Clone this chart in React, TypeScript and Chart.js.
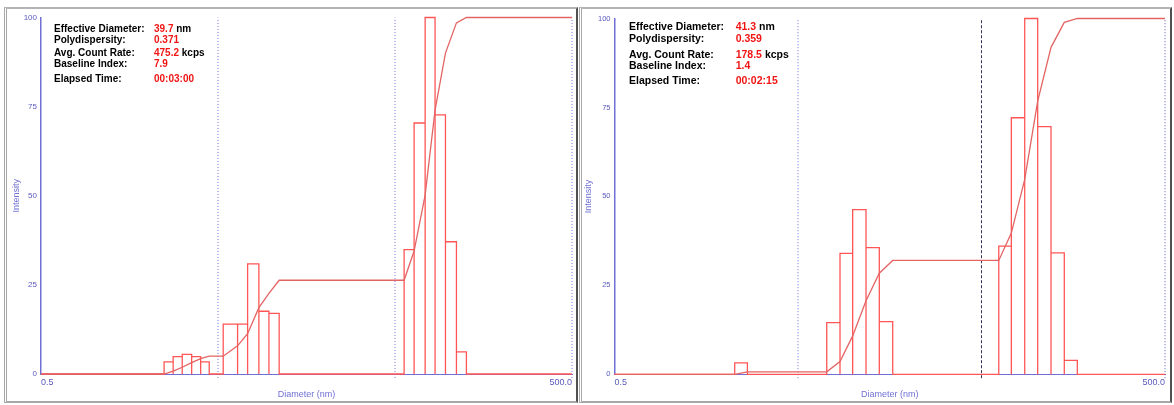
import React, { useEffect, useRef } from 'react';
import { Chart, registerables } from 'chart.js';
Chart.register(...registerables);

// ---------- shared axis data ----------
const xTickValues = [0.5, 500];
const xTickLabels = ['0.5', '500.0'];
const yTickValues = [0, 25, 50, 75, 100];
const statLabels = ['Effective Diameter:', 'Polydispersity:', 'Avg. Count Rate:', 'Baseline Index:', 'Elapsed Time:'];
const statUnits = ['nm', '', 'kcps', '', ''];

// ---------- left measurement ----------
const leftBinLo = [2.48, 2.79, 3.14, 3.55, 3.99, 5.35, 6.45, 7.35, 8.51, 9.70, 56.3, 64.1, 74.0, 84.2, 96.4, 111.2];
const leftBinHi = [2.79, 3.14, 3.55, 3.99, 4.46, 6.45, 7.35, 8.51, 9.70, 11.08, 64.1, 74.0, 84.2, 96.4, 111.2, 126.6];
const leftIntensity = [3.4, 4.9, 5.5, 4.9, 3.4, 14.0, 14.0, 30.9, 17.6, 17.0, 34.9, 70.4, 100, 72.7, 37.1, 6.2];
const leftCumDiameter = [0.5, 2.48, 2.79, 3.14, 3.55, 3.99, 4.46, 5.35, 6.45, 7.35, 8.51, 9.70, 11.08, 56.3, 64.1, 74.0, 84.2, 96.4, 111.2, 126.6, 500];
const leftCumulative = [0, 0, 0.8, 1.9, 3.2, 4.3, 5.0, 5.0, 7.9, 11.3, 18.6, 22.6, 26.3, 26.3, 34.5, 50.2, 74.0, 90.0, 98.5, 100, 100];
const leftStatValues = ['39.7', '0.371', '475.2', '7.9', '00:03:00'];

// ---------- right measurement ----------
const rightBinLo = [2.26, 7.17, 8.47, 9.93, 11.74, 13.87, 62.1, 72.7, 86.0, 101.2, 119.6, 141.3];
const rightBinHi = [2.65, 8.47, 9.93, 11.74, 13.87, 16.41, 72.7, 86.0, 101.2, 119.6, 141.3, 166.4];
const rightIntensity = [3.2, 14.5, 34.0, 46.3, 35.6, 14.8, 36.0, 72.1, 100, 69.6, 34.1, 3.9];
const rightCumDiameter = [0.5, 2.26, 2.65, 7.17, 8.47, 9.93, 11.74, 13.87, 16.41, 62.1, 72.7, 86.0, 101.2, 119.6, 141.3, 166.4, 500];
const rightCumulative = [0, 0, 0.7, 0.7, 3.6, 10.8, 20.7, 28.4, 32.0, 32.0, 39.7, 54.8, 76.8, 91.9, 98.9, 100, 100];
const rightStatValues = ['41.3', '0.359', '178.5', '1.4', '00:02:15'];

const FONT = "'Liberation Sans', Arial, Helvetica, sans-serif";
const AXIS_BLUE = 'rgb(112,112,212)';
const LABEL_BLUE = 'rgb(88,88,188)';

type Marker = { d: number; color: string; dash: number[] };

type PanelProps = {
  canvasLeft: number; canvasTop: number; canvasWidth: number; canvasHeight: number;
  padTop: number; padRight: number; yAxisWidth: number; xAxisHeight: number; yTitlePad: number;
  binLo: number[]; binHi: number[]; intensity: number[];
  cumD: number[]; cum: number[];
  markers: Marker[];
  yTickSize: number;
};

function ChartPanel(p: PanelProps) {
  const ref = useRef<HTMLCanvasElement | null>(null);
  useEffect(() => {
    if (!ref.current) return;
    const hist: { x: number; y: number }[] = [{ x: xTickValues[0], y: 0 }];
    for (let i = 0; i < p.intensity.length; i++) {
      hist.push({ x: p.binLo[i], y: 0 });
      hist.push({ x: p.binLo[i], y: p.intensity[i] });
      hist.push({ x: p.binHi[i], y: p.intensity[i] });
      hist.push({ x: p.binHi[i], y: 0 });
    }
    hist.push({ x: xTickValues[1], y: 0 });
    const cumPts = p.cumD.map((d, i) => ({ x: d, y: p.cum[i] }));
    const markerSets = p.markers.map((m) => ({
      data: [{ x: m.d, y: -1.1 }, { x: m.d, y: 100 }],
      borderColor: m.color,
      borderWidth: 1,
      borderDash: m.dash,
      pointRadius: 0,
      clip: false as any,
      order: 3,
    }));
    const chart = new Chart(ref.current, {
      type: 'line',
      data: {
        datasets: [
          { data: cumPts, borderColor: 'rgb(228,100,100)', borderWidth: 1.3, pointRadius: 0, tension: 0, clip: 3, order: 1 },
          { data: hist, borderColor: 'rgb(255,85,85)', borderWidth: 1.3, pointRadius: 0, tension: 0, clip: 3, order: 2 },
          ...markerSets,
        ] as any,
      },
      options: {
        animation: false,
        responsive: false,
        maintainAspectRatio: false,
        layout: { padding: { left: 0, right: p.padRight, top: p.padTop, bottom: 1 } },
        plugins: { legend: { display: false }, tooltip: { enabled: false } },
        scales: {
          x: {
            type: 'logarithmic',
            min: xTickValues[0],
            max: xTickValues[1],
            afterBuildTicks: (ax: any) => { ax.ticks = xTickValues.map((v) => ({ value: v })); },
            afterFit: (ax: any) => { ax.height = p.xAxisHeight; },
            grid: { display: false, drawTicks: false },
            border: { display: true, color: AXIS_BLUE, width: 1, z: -1 },
            ticks: {
              align: 'inner', autoSkip: false, maxRotation: 0, padding: 3, color: LABEL_BLUE,
              font: { family: FONT, size: 9 },
              callback: (_v: any, i: number) => xTickLabels[i],
            },
            title: { display: true, text: 'Diameter (nm)', color: AXIS_BLUE, font: { family: FONT, size: 9 }, padding: { top: 0, bottom: 1 } },
          },
          y: {
            min: 0,
            max: 100,
            afterBuildTicks: (ax: any) => { ax.ticks = yTickValues.map((v) => ({ value: v })); },
            afterFit: (ax: any) => { ax.width = p.yAxisWidth; },
            grid: { display: false, drawTicks: false },
            border: { display: true, color: AXIS_BLUE, width: 1.5, z: -1 },
            ticks: { padding: 4, color: LABEL_BLUE, font: { family: FONT, size: p.yTickSize } },
            title: { display: true, text: 'Intensity', color: AXIS_BLUE, font: { family: FONT, size: 9 }, padding: { top: p.yTitlePad, bottom: 0 } },
          },
        },
      } as any,
    });
    return () => chart.destroy();
  }, []);
  return (
    <canvas
      ref={ref}
      width={p.canvasWidth}
      height={p.canvasHeight}
      style={{ position: 'absolute', left: p.canvasLeft, top: p.canvasTop, width: p.canvasWidth, height: p.canvasHeight }}
    />
  );
}

function Stats(props: { labelX: number; valueX: number; centers: number[]; size: number; values: string[] }) {
  const lh = Math.round(props.size * 1.2);
  return (
    <>
      {statLabels.map((lab, i) => (
        <React.Fragment key={i}>
          <div style={{ position: 'absolute', left: props.labelX, top: props.centers[i] - lh / 2 - 0.1, font: `bold ${props.size}px ${FONT}`, lineHeight: `${lh}px`, color: '#000', whiteSpace: 'nowrap' }}>{lab}</div>
          <div style={{ position: 'absolute', left: props.valueX, top: props.centers[i] - lh / 2 - 0.1, font: `bold ${props.size}px ${FONT}`, lineHeight: `${lh}px`, whiteSpace: 'nowrap' }}>
            <span style={{ color: '#f01414' }}>{props.values[i]}</span>
            {statUnits[i] ? <span style={{ color: '#000' }}>{' ' + statUnits[i]}</span> : null}
          </div>
        </React.Fragment>
      ))}
    </>
  );
}

const panelBorder = {
  position: 'absolute' as const,
  boxSizing: 'border-box' as const,
  borderTop: '2px solid #b4b4b4',
  borderLeft: '3px double #a8a8a8',
  borderBottom: '2px solid #a8a8a8',
  borderRight: '2px solid #505050',
  background: '#fff',
};

export default function App() {
  return (
    <div style={{ position: 'fixed', left: 0, top: 0, width: 1174, height: 405, background: '#fff', overflow: 'hidden' }}>
      <div style={{ ...panelBorder, left: 4, top: 7, width: 574, height: 396 }} />
      <div style={{ ...panelBorder, left: 579, top: 7, width: 593, height: 396 }} />
      <ChartPanel
        canvasLeft={7} canvasTop={8} canvasWidth={568} canvasHeight={394}
        padTop={9.5} padRight={2.7} yAxisWidth={34} xAxisHeight={27} yTitlePad={4}
        binLo={leftBinLo} binHi={leftBinHi} intensity={leftIntensity}
        cumD={leftCumDiameter} cum={leftCumulative}
        markers={[
          { d: 5, color: 'rgb(110,110,220)', dash: [1, 2] },
          { d: 50, color: 'rgb(110,110,220)', dash: [1, 2] },
          { d: 500, color: 'rgb(110,110,220)', dash: [1, 2] },
        ]}
        yTickSize={8}
      />
      <ChartPanel
        canvasLeft={580} canvasTop={8} canvasWidth={588} canvasHeight={394}
        padTop={10.5} padRight={3} yAxisWidth={34.5} xAxisHeight={26.7} yTitlePad={3.1}
        binLo={rightBinLo} binHi={rightBinHi} intensity={rightIntensity}
        cumD={rightCumDiameter} cum={rightCumulative}
        markers={[
          { d: 5, color: 'rgb(110,110,220)', dash: [1, 2] },
          { d: 50, color: 'rgb(50,50,90)', dash: [3, 2] },
          { d: 500, color: 'rgb(90,90,180)', dash: [1, 2] },
        ]}
        yTickSize={7.5}
      />
      <Stats labelX={54} valueX={154} centers={[29, 39.7, 53.3, 64, 78.7]} size={10} values={leftStatValues} />
      <Stats labelX={629} valueX={735.7} centers={[26.7, 38.3, 54.3, 65.3, 81]} size={10.5} values={rightStatValues} />
    </div>
  );
}
